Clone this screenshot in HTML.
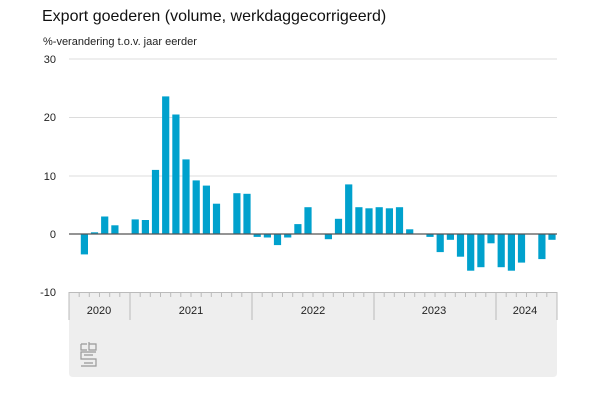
<!DOCTYPE html>
<html><head><meta charset="utf-8"><style>
html,body{margin:0;padding:0;background:#fff;width:600px;height:400px;overflow:hidden}
svg{display:block;font-family:"Liberation Sans",Arial,sans-serif}
</style></head><body>
<svg id="c" width="600" height="400" xmlns="http://www.w3.org/2000/svg">
<text x="42" y="21" font-size="16" fill="#111">Export goederen (volume, werkdaggecorrigeerd)</text>
<text x="43" y="45" font-size="11" fill="#222">%-verandering t.o.v. jaar eerder</text>
<path d="M69,292 H557 V373 Q557,377 553,377 H73 Q69,377 69,373 Z" fill="#eeeeee"/>
<g id="grid" stroke="#dcdcdc" stroke-width="1"></g>
<g font-size="11" fill="#222" text-anchor="end">
<text x="56" y="63">30</text><text x="56" y="121">20</text><text x="56" y="180">10</text><text x="56" y="238">0</text><text x="56" y="296">-10</text>
</g>
<g id="bars" fill="#00a1cd"></g>
<line x1="69" x2="557" y1="234" y2="234" stroke="#555" stroke-width="1.3"/>
<g id="ticks" stroke="#bbb" stroke-width="1"></g>
<g font-size="11" fill="#222" text-anchor="middle">
<text x="99" y="314">2020</text><text x="191" y="314">2021</text><text x="313" y="314">2022</text><text x="434" y="314">2023</text><text x="525" y="314">2024</text>
</g>
<g fill="none" stroke="#999" stroke-width="1.2">
<path d="M81,344 H87 M81,344 V350 H87"/><path d="M89,342 V350 H96 V344 H89"/>
<path d="M96,352 H81 V359 H96 V366 H81 M84,355 H93 M84,363 H93"/>
</g>
</svg>
<script>
var v=[0,-3.5,0.3,3.0,1.5,0,2.5,2.4,11,23.6,20.5,12.8,9.2,8.3,5.2,0,7,6.9,-0.5,-0.6,-1.9,-0.6,1.7,4.6,0,-0.9,2.6,8.5,4.6,4.4,4.6,4.4,4.6,0.8,0.05,-0.5,-3.1,-1,-3.9,-6.3,-5.7,-1.6,-5.7,-6.3,-4.9,0,-4.3,-1];
var ns="http://www.w3.org/2000/svg",x0=69,w=(557-69)/48,z=234,k=5.83;
function el(t,a,p){var e=document.createElementNS(ns,t);for(var i in a)e.setAttribute(i,a[i]);document.getElementById(p).appendChild(e);}
[59,117.5,176].forEach(function(y){el('line',{x1:69,x2:557,y1:y,y2:y},'grid');});
v.forEach(function(d,i){if(!d)return;var h=Math.abs(d)*k,y=d>0?z-h:z;el('rect',{x:(x0+i*w+1.6).toFixed(1),y:y.toFixed(1),width:(w-3).toFixed(1),height:h.toFixed(1)},'bars');});
for(var i=0;i<=48;i++){var x=(x0+i*w).toFixed(1),yr=(i-6)%12==0;el('line',{x1:x,x2:x,y1:292,y2:yr||i==0||i==48?320:297},'ticks');}
el('line',{x1:69,x2:557,y1:292.5,y2:292.5},'ticks');
</script>
</body></html>
